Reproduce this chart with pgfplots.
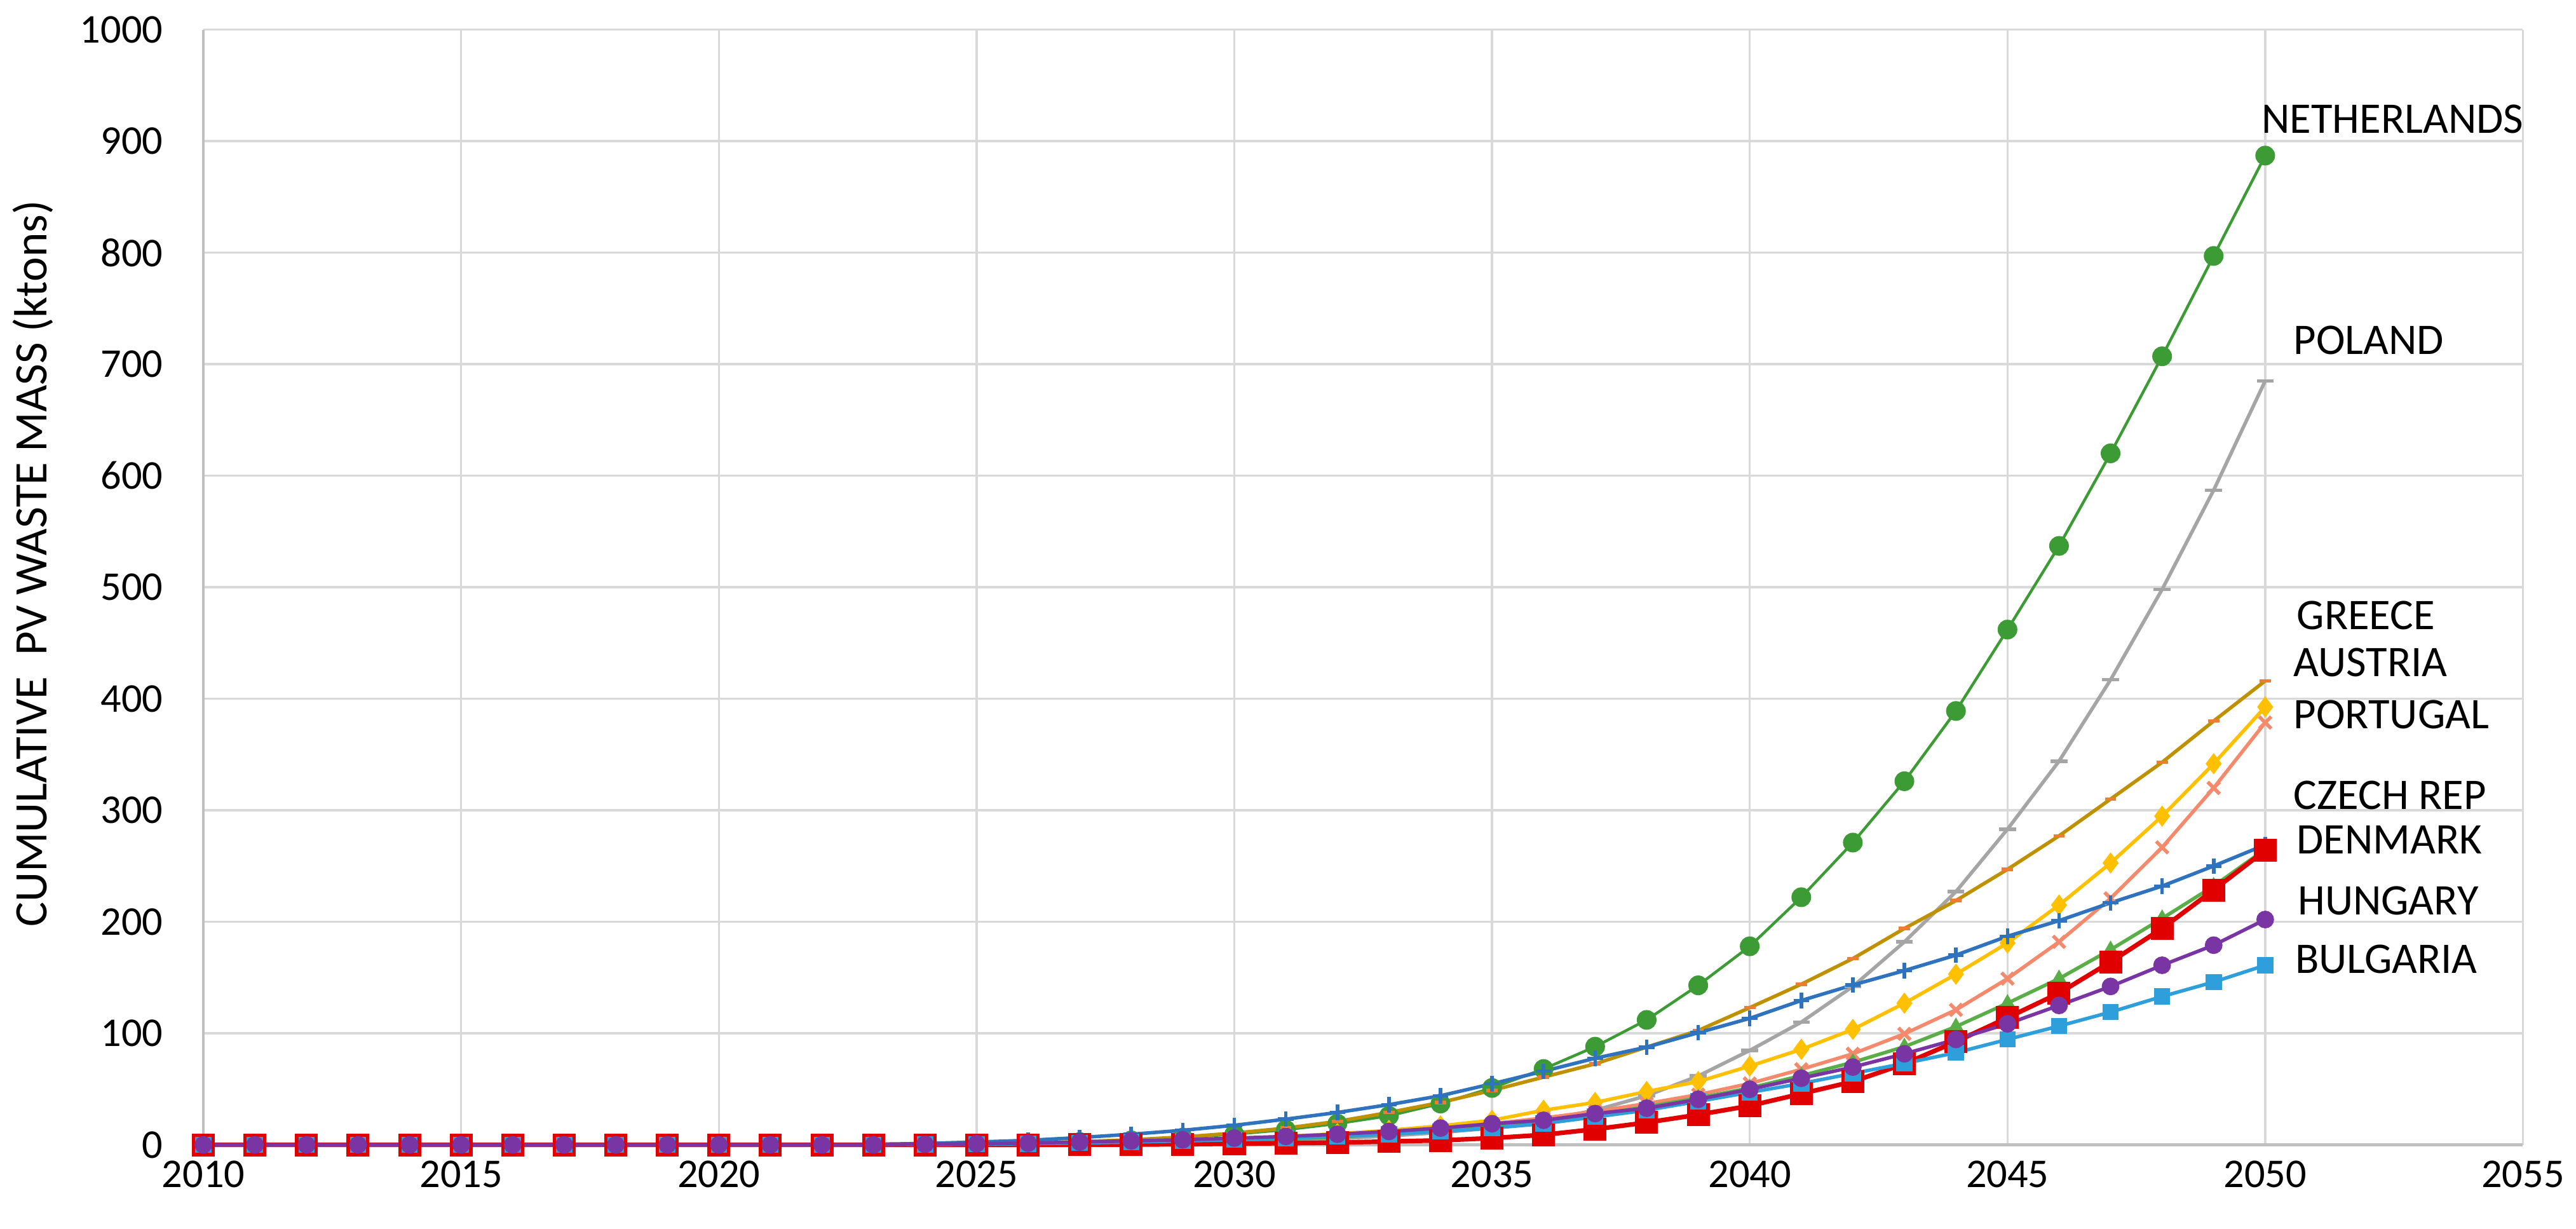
\documentclass[border=0pt]{standalone}
\usepackage{fontspec}
\setmainfont{Carlito}
\usepackage{pgfplots}
\pgfplotsset{compat=1.18}
\usepackage{pgfplotstable}

\definecolor{nlc}{HTML}{3D9B35}
\definecolor{plc}{HTML}{A5A5A5}
\definecolor{grc}{HTML}{BF9000}
\definecolor{grm}{HTML}{ED7D31}
\definecolor{atc}{HTML}{FFC000}
\definecolor{ptc}{HTML}{F4896B}
\definecolor{czc}{HTML}{2F72BE}
\definecolor{dkc}{HTML}{E00000}
\definecolor{huc}{HTML}{7A35A5}
\definecolor{bgc}{HTML}{2E9FDB}
\definecolor{gtc}{HTML}{5AAE48}
\definecolor{gridc}{HTML}{D9D9D9}
\definecolor{axc}{HTML}{BFBFBF}

% cumulative PV waste mass, ktons
\pgfplotstableread{
yr   NL   PL   GR   AT    PT    CZ    DK    HU    BG    GT
2010 0    0    0    0     0     0     0     0     0     0
2011 0    0    0    0     0     0     0     0     0     0
2012 0    0    0    0     0     0     0     0     0     0
2013 0    0    0    0     0     0     0     0     0     0
2014 0    0    0    0     0     0     0     0     0     0
2015 0    0    0    0     0     0     0     0     0     0
2016 0    0    0    0     0     0     0     0     0     0
2017 0    0    0    0     0     0     0     0     0     0
2018 0    0    0    0     0     0     0     0     0     0
2019 0    0    0    0     0     0     0     0     0     0
2020 0    0    0    0     0     0     0     0     0     0
2021 0    0    0    0     0     0     0     0     0     0
2022 0    0    0    0     0     0.2   0     0     0     0
2023 0    0    0.2  0     0     0.5   0     0     0     0
2024 0.3  0.1  0.4  0.3   0.2   1.2   0     0.5   0.3   0.2
2025 0.6  0.2  0.8  0.6   0.5   2.5   0     1     0.6   0.5
2026 1.3  0.4  1.5  1.2   0.9   4     0     1.5   1     0.8
2027 2.5  0.8  2.8  2     1.5   6.5   0.1   2.5   1.7   1.2
2028 4    1.3  4.5  3     2.5   9.5   0.2   3.5   2.5   1.8
2029 6.5  2    7    4     3.5   13    0.5   4.5   3.5   2.5
2030 9.5  3    10.5 5.5   5     17.5  1     6     4.5   3.5
2031 13.5 4    15   7.5   6.5   23    1.5   7.5   6     5
2032 19   5.5  21   10    9     29    2     9.5   7.5   7
2033 26   8    29   13    11.5  36    3     12    9.5   9.5
2034 37   11   38   17    15    44    4     15    12    12.5
2035 51   15   48.8 22    19    54.7  6     18.9  15    16
2036 68   22   60.7 31    24    66    9     22    19    21
2037 88   31   72.6 38    30    77.6  14    28    25    27
2038 112  44   87.6 47.8  37    87.6  20    32.8  31    34
2039 143  61.7 102.5 56.7 45    100.5 27    40.8  39    42
2040 178  84.6 123  70.6  55    113.4 35    49.8  47    51
2041 222  110  144  85.6  67.7  129.4 45.8  59.7  55    62
2042 271  142  167  103.5 81.6  143.3 56.7  69.7  64    74
2043 326  182  194  127   99.5  156.2 72.6  81.6  73    88
2044 389  227  219  153   121   170.1 92.5  94.5  82.6  106
2045 462  283  247  181   149   187   114   108.5 94.5  127
2046 537  344  277  215   182   201   136   125   106.5 149
2047 620  417  310  252.7 221   217   164   142   119   175
2048 707  498  343  294.7 266.7 232   194   161   133   203
2049 797  587  380  341.7 320   250   228.5 179   146   232
2050 887  685  416  392.6 378.6 269   264   202   161   265
}\wastedata

\begin{document}
\begin{tikzpicture}
\begin{axis}[
    name=ax,
    scale only axis,
    width=23.15cm, height=11.13cm,
    xmin=2010, xmax=2055, ymin=0, ymax=1000,
    xtick={2010,2015,...,2055},
    ytick={0,100,...,1000},
    grid=major,
    major grid style={color=gridc, line width=0.6pt},
    axis lines*=left,
    axis line style={color=axc, line width=0.8pt},
    major tick length=0pt,
    tick label style={font=\fontsize{11.6}{13}\selectfont},
    /pgf/number format/assume math mode=true,
    /pgf/number format/1000 sep={},
    yticklabel style={xshift=-8pt},
    xticklabel style={yshift=-1pt},
    ylabel={CUMULATIVE\ \ PV WASTE MASS (ktons)},
    ylabel style={font=\fontsize{13.2}{15}\selectfont, at={(axis description cs:-0.0735,0.521)}, anchor=center},
    clip=false,
    every axis plot/.append style={mark options={solid}},
  ]
  \addplot[color=nlc, line width=0.8pt, mark=*, mark size=2.4pt] table[x=yr, y=NL] {\wastedata};
  \addplot[color=plc, line width=1pt, mark=-, mark size=2.4pt] table[x=yr, y=PL] {\wastedata};
  \addplot[color=grc, line width=1pt, mark=-, mark size=1.6pt, mark options={draw=grm, line width=1pt}] table[x=yr, y=GR] {\wastedata};
  \addplot[color=atc, line width=1pt, mark=diamond*, mark size=2.2pt] table[x=yr, y=AT] {\wastedata};
  \addplot[color=ptc, line width=1pt, mark=x, mark size=2.4pt] table[x=yr, y=PT] {\wastedata};
  \addplot[color=czc, line width=1pt, mark=+, mark size=2.2pt] table[x=yr, y=CZ] {\wastedata};
  \addplot[color=gtc, line width=1pt, mark=triangle*, mark size=1.6pt] table[x=yr, y=GT] {\wastedata};
  \addplot[color=dkc, line width=1.3pt, mark=square*, mark size=2.6pt] table[x=yr, y=DK] {\wastedata};
  \addplot[color=bgc, line width=1pt, mark=square*, mark size=1.8pt] table[x=yr, y=BG] {\wastedata};
  \addplot[color=huc, line width=1pt, mark=*, mark size=2pt] table[x=yr, y=HU] {\wastedata};

  \begin{scope}[every node/.style={anchor=base west, font=\fontsize{12.4}{14}\selectfont, inner sep=0pt}]
    \node at (axis cs:2049.92,907) {NETHERLANDS};
    \node at (axis cs:2050.54,709) {POLAND};
    \node at (axis cs:2050.6,462) {GREECE};
    \node at (axis cs:2050.54,420) {AUSTRIA};
    \node at (axis cs:2050.54,373) {PORTUGAL};
    \node at (axis cs:2050.54,301) {CZECH REP};
    \node at (axis cs:2050.6,261) {DENMARK};
    \node at (axis cs:2050.62,206) {HUNGARY};
    \node at (axis cs:2050.57,154) {BULGARIA};
  \end{scope}
\end{axis}
\pgfresetboundingbox
\path[use as bounding box] ([xshift=-2.03cm,yshift=-0.84cm]ax.south west) rectangle ([xshift=0.53cm,yshift=0.295cm]ax.north east);
\end{tikzpicture}
\end{document}
